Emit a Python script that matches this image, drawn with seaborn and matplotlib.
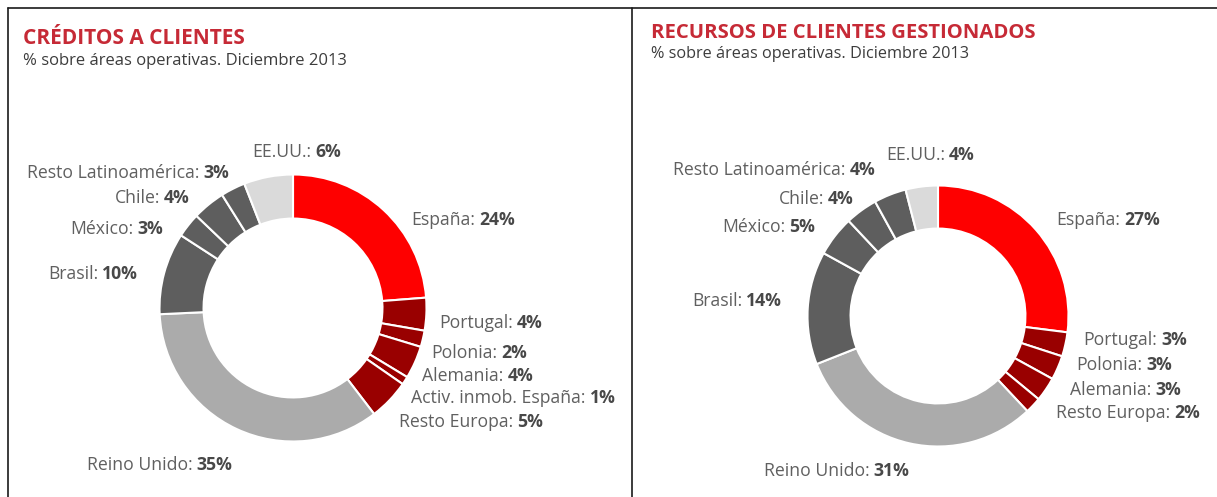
import matplotlib
matplotlib.use("Agg")
import matplotlib.pyplot as plt
import seaborn as sns

# Data (% over operating areas, Dec 2013)
cred_labels = ["España", "Portugal", "Polonia", "Alemania", "Activ. inmob. España",
               "Resto Europa", "Reino Unido", "Brasil", "México", "Chile",
               "Resto Latinoamérica", "EE.UU."]
cred_values = [24, 4, 2, 4, 1, 5, 35, 10, 3, 4, 3, 6]

rec_labels = ["España", "Portugal", "Polonia", "Alemania", "Resto Europa",
              "Reino Unido", "Brasil", "México", "Chile", "Resto Latinoamérica",
              "EE.UU."]
rec_values = [27, 3, 3, 3, 2, 31, 14, 5, 4, 4, 4]

europa = ["Portugal", "Polonia", "Alemania", "Activ. inmob. España", "Resto Europa"]
latam = ["Brasil", "México", "Chile", "Resto Latinoamérica"]

titles = ["CRÉDITOS A CLIENTES", "RECURSOS DE CLIENTES GESTIONADOS"]
subtitle = "% sobre áreas operativas. Diciembre 2013"

# colours
RED = "#fe0000"
DARK_RED = "#990000"
DARK_GREY = "#5e5e5e"
LIGHT_GREY = "#ababab"
PALE_GREY = "#dadada"
TITLE_RED = "#c62a36"
TEXT = "#606060"
VALUE = "#484848"


def colour(name):
    if name == "España":
        return RED
    if name in europa:
        return DARK_RED
    if name in latam:
        return DARK_GREY
    if name == "Reino Unido":
        return LIGHT_GREY
    return PALE_GREY


# layout in pixels (x, y of text centre, side)
cred_pos = {
    "EE.UU.": (252, 151, "l"),
    "Resto Latinoamérica": (229, 172, "r"),
    "Chile": (190, 197, "r"),
    "México": (163, 228, "r"),
    "Brasil": (138, 273, "r"),
    "España": (411, 219, "l"),
    "Portugal": (439, 322, "l"),
    "Polonia": (431, 352, "l"),
    "Alemania": (422, 375, "l"),
    "Activ. inmob. España": (411, 397, "l"),
    "Resto Europa": (399, 421, "l"),
    "Reino Unido": (87, 464, "l"),
}
rec_pos = {
    "EE.UU.": (886, 154, "l"),
    "Resto Latinoamérica": (875, 169, "r"),
    "Chile": (854, 198, "r"),
    "México": (815, 226, "r"),
    "Brasil": (782, 300, "r"),
    "España": (1056, 219, "l"),
    "Portugal": (1083, 339, "l"),
    "Polonia": (1076, 364, "l"),
    "Alemania": (1070, 389, "l"),
    "Resto Europa": (1056, 412, "l"),
    "Reino Unido": (764, 470, "l"),
}

W, H = 1217, 497
sns.set_theme(style="white")
plt.rcParams["font.family"] = ["Open Sans", "DejaVu Sans"]

fig = plt.figure(figsize=(W / 100, H / 100), dpi=100)
ax = fig.add_axes([0, 0, 1, 1])

LABEL_FS = 12.7


def donut(labels, values, centre, radius, positions):
    ax.pie(values, colors=[colour(n) for n in labels], startangle=90,
           counterclock=False, center=(centre[0], H - centre[1]), radius=radius,
           wedgeprops=dict(width=radius * 0.33, edgecolor="white", linewidth=1.5))
    for name, val in zip(labels, values):
        x, y, side = positions[name]
        yb = H - (y + 6)
        if side == "l":
            t = ax.text(x, yb, name + ":", ha="left", va="baseline",
                        fontsize=LABEL_FS, color=TEXT)
            ax.annotate(f"{val}%", xy=(1, 0), xycoords=t, xytext=(3.0, 0),
                        textcoords="offset points", ha="left", va="bottom",
                        fontsize=LABEL_FS, fontweight="bold", color=VALUE)
        else:
            t = ax.text(x, yb, f"{val}%", ha="right", va="baseline",
                        fontsize=LABEL_FS, fontweight="bold", color=VALUE)
            ax.annotate(name + ":", xy=(0, 0), xycoords=t, xytext=(-3.0, 0),
                        textcoords="offset points", ha="right", va="bottom",
                        fontsize=LABEL_FS, color=TEXT)


donut(cred_labels, cred_values, (293, 308), 133.5, cred_pos)
donut(rec_labels, rec_values, (938, 316), 130.5, rec_pos)

# titles
ax.text(23, H - 44, titles[0], ha="left", va="baseline", fontsize=15,
        fontweight="bold", color=TITLE_RED)
ax.text(23, H - 65, subtitle, ha="left", va="baseline", fontsize=12, color="#3c3c3c")
ax.text(651, H - 38, titles[1], ha="left", va="baseline", fontsize=14.6,
        fontweight="bold", color=TITLE_RED)
ax.text(651, H - 58, subtitle, ha="left", va="baseline", fontsize=11.7, color="#3c3c3c")

# panel frames
ax.plot([8, W], [H - 8, H - 8], color="#1a1a1a", lw=1.2)
ax.plot([8, 8], [0, H - 8], color="#1a1a1a", lw=1.2)
ax.plot([632, 632], [0, H - 8], color="#1a1a1a", lw=1.2)

ax.set_xlim(0, W)
ax.set_ylim(0, H)
ax.set_aspect("auto")
ax.axis("off")

fig.savefig("out.png", dpi=100, facecolor="white")
